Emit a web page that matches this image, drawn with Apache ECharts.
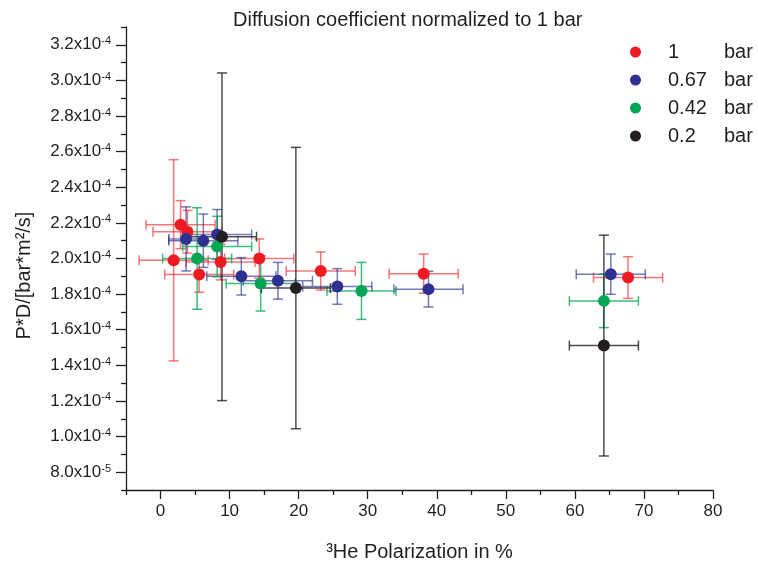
<!DOCTYPE html>
<html lang="en">
<head>
    <meta charset="utf-8">
    <title>Diffusion coefficient normalized to 1 bar</title>
    <script src="https://cdn.jsdelivr.net/npm/echarts@6/dist/echarts.min.js"></script>
    <style>
        html, body { margin: 0; padding: 0; background: #fff; }
        #chart { width: 758px; height: 567px; }
    </style>
</head>
<body>
    <div id="chart"></div>
    <script>
        // Polarization in %, P*D in units of 1e-4 bar*m^2/s
        const polRed = [2.9, 3.9, 1.9, 5.6, 8.7, 14.3, 23.2, 38.1, 67.7];
        const pdRed = [2.19, 2.15, 1.99, 1.91, 1.98, 2.00, 1.93, 1.915, 1.893];
        const polErrRed = [5, 5, 5, 5, 5, 5, 5, 5, 5];
        const pdErrRed = [0.135, 0.12, 0.565, 0.10, 0.10, 0.11, 0.107, 0.11, 0.117];

        const polBlue = [3.7, 6.2, 8.2, 11.7, 17.0, 25.6, 38.8, 65.2];
        const pdBlue = [2.11, 2.10, 2.135, 1.90, 1.875, 1.843, 1.828, 1.912];
        const polErrBlue = [2.5, 5, 5, 5, 5, 5, 5, 5];
        const pdErrBlue = [0.18, 0.15, 0.14, 0.105, 0.103, 0.10, 0.10, 0.113];

        const polGreen = [5.3, 8.2, 14.5, 29.1, 64.2];
        const pdGreen = [2.00, 2.067, 1.86, 1.818, 1.762];
        const polErrGreen = [5, 5, 5, 5, 5];
        const pdErrGreen = [0.285, 0.17, 0.155, 0.16, 0.15];

        const polBlack = [8.9, 19.6, 64.2];
        const pdBlack = [2.122, 1.834, 1.511];
        const polErrBlack = [5, 5, 5];
        const pdErrBlack = [0.92, 0.79, 0.62];

        const pressures = ['1', '0.67', '0.42', '0.2'];

        const xMajorTicks = [0, 10, 20, 30, 40, 50, 60, 70, 80];
        const xMinorTicks = [-5, 5, 15, 25, 35, 45, 55, 65, 75];
        const yMajorTicks = [0.8, 1.0, 1.2, 1.4, 1.6, 1.8, 2.0, 2.2, 2.4, 2.6, 2.8, 3.0, 3.2];
        const yMinorTicks = [0.7, 0.9, 1.1, 1.3, 1.5, 1.7, 1.9, 2.1, 2.3, 2.5, 2.7, 2.9, 3.1, 3.3];

        const chart = echarts.init(document.getElementById('chart'));
        const font = 'Liberation Sans, Arial, sans-serif';
        const ink = '#231f20';

        // value in 1e-4 units -> "2.0x10^-4" / "8.0x10^-5"
        function sciLabel(v) {
            if (v < 1 - 1e-9) return '{m|' + (v * 10).toFixed(1) + 'x10}{e|-5}';
            return '{m|' + v.toFixed(1) + 'x10}{e|-4}';
        }

        function errorBars(name, xs, ys, xe, ye, color) {
            return {
                type: 'custom',
                name: name + ' err',
                silent: true,
                z: 1,
                encode: { x: 0, y: 1 },
                data: xs.map((x, i) => [x, ys[i], xe[i], ye[i]]),
                renderItem(params, api) {
                    const x = api.value(0), y = api.value(1);
                    const dx = api.value(2), dy = api.value(3);
                    const c = api.coord([x, y]);
                    const l = api.coord([x - dx, y])[0];
                    const r = api.coord([x + dx, y])[0];
                    const t = api.coord([x, y + dy])[1];
                    const b = api.coord([x, y - dy])[1];
                    const cap = 5;
                    const seg = (x1, y1, x2, y2) => ({
                        type: 'line',
                        shape: { x1, y1, x2, y2 },
                        style: { stroke: color, lineWidth: 1.5, fill: null }
                    });
                    return {
                        type: 'group',
                        children: [
                            seg(l, c[1], r, c[1]),
                            seg(l, c[1] - cap, l, c[1] + cap),
                            seg(r, c[1] - cap, r, c[1] + cap),
                            seg(c[0], t, c[0], b),
                            seg(c[0] - cap, t, c[0] + cap, t),
                            seg(c[0] - cap, b, c[0] + cap, b)
                        ]
                    };
                }
            };
        }

        function points(name, xs, ys, color) {
            return {
                type: 'scatter',
                name: name,
                z: 3,
                symbol: 'circle',
                symbolSize: 12,
                itemStyle: { color: color, opacity: 1 },
                data: xs.map((x, i) => [x, ys[i]])
            };
        }

        const colors = ['#ed1c24', '#2e3192', '#00a651', ink];
        const barColors = ['rgba(237,28,36,0.6)', 'rgba(46,49,146,0.65)', 'rgba(0,166,81,0.75)', 'rgba(35,31,32,0.8)'];

        const option = {
            animation: false,
            backgroundColor: '#fff',
            textStyle: { fontFamily: font },
            title: {
                text: 'Diffusion coefficient normalized to 1 bar',
                left: 228,
                top: 5,
                textStyle: { fontFamily: font, fontSize: 20, fontWeight: 'normal', color: ink }
            },
            legend: {
                orient: 'vertical',
                left: 625,
                top: 37,
                icon: 'circle',
                itemWidth: 11,
                itemHeight: 11,
                itemGap: 8,
                data: pressures,
                formatter: name => '{n|' + name + '}{u|bar}',
                textStyle: {
                    fontFamily: font,
                    color: ink,
                    padding: [0, 0, 0, 22],
                    rich: {
                        n: { fontFamily: font, fontSize: 20, color: ink, width: 56 },
                        u: { fontFamily: font, fontSize: 20, color: ink }
                    }
                }
            },
            grid: { left: 126, right: 45, top: 27, bottom: 77 },
            xAxis: [{
                type: 'value',
                min: -5,
                max: 80,
                position: 'bottom',
                name: '³He Polarization in %',
                nameLocation: 'middle',
                nameGap: 52,
                nameTextStyle: { fontFamily: font, fontSize: 20, color: ink },
                axisLine: { onZero: false, lineStyle: { color: ink, width: 1.3 } },
                axisTick: { customValues: xMajorTicks, length: 9, lineStyle: { color: ink, width: 1.3 } },
                axisLabel: { customValues: xMajorTicks, margin: 13, fontFamily: font, fontSize: 17, color: ink },
                splitLine: { show: false }
            }, {
                type: 'value',
                min: -5,
                max: 80,
                position: 'bottom',
                axisLine: { show: false, onZero: false },
                axisTick: { customValues: xMinorTicks, length: 5, lineStyle: { color: ink, width: 1.3 } },
                axisLabel: { show: false },
                splitLine: { show: false }
            }],
            yAxis: [{
                type: 'value',
                min: 0.7,
                max: 3.3,
                position: 'left',
                name: 'P*D/[bar*m²/s]',
                nameLocation: 'middle',
                nameGap: 92,
                nameTextStyle: { fontFamily: font, fontSize: 20, color: ink, padding: [0, 34, 0, 0] },
                axisLine: { show: true, onZero: false, lineStyle: { color: ink, width: 1.3 } },
                axisTick: { show: true, customValues: yMajorTicks, length: 10, lineStyle: { color: ink, width: 1.3 } },
                axisLabel: {
                    customValues: yMajorTicks,
                    margin: 15,
                    formatter: sciLabel,
                    rich: {
                        m: { fontFamily: font, fontSize: 17, color: ink, lineHeight: 18 },
                        e: { fontFamily: font, fontSize: 11, color: ink, verticalAlign: 'top', lineHeight: 11 }
                    }
                },
                splitLine: { show: false }
            }, {
                type: 'value',
                min: 0.7,
                max: 3.3,
                position: 'left',
                axisLine: { show: false, onZero: false },
                axisTick: { show: true, customValues: yMinorTicks, length: 5, lineStyle: { color: ink, width: 1.3 } },
                axisLabel: { show: false },
                splitLine: { show: false }
            }],
            series: [
                errorBars('1', polRed, pdRed, polErrRed, pdErrRed, barColors[0]),
                errorBars('0.67', polBlue, pdBlue, polErrBlue, pdErrBlue, barColors[1]),
                errorBars('0.42', polGreen, pdGreen, polErrGreen, pdErrGreen, barColors[2]),
                errorBars('0.2', polBlack, pdBlack, polErrBlack, pdErrBlack, barColors[3]),
                points('1', polRed, pdRed, colors[0]),
                points('0.67', polBlue, pdBlue, colors[1]),
                points('0.42', polGreen, pdGreen, colors[2]),
                points('0.2', polBlack, pdBlack, colors[3])
            ]
        };

        chart.setOption(option);
    </script>
</body>
</html>
